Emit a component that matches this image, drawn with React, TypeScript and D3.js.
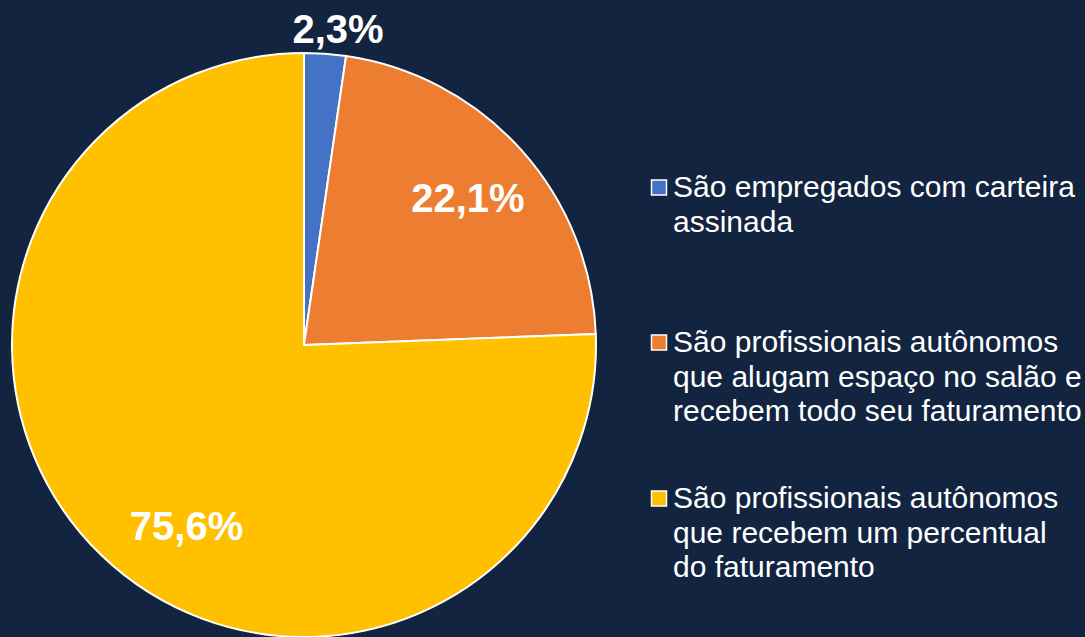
import React from 'react';
import * as d3 from 'd3';

// shares of professionals by type of work relation (%)
const categories = [
  'São empregados com carteira assinada',
  'São profissionais autônomos que alugam espaço no salão e recebem todo seu faturamento',
  'São profissionais autônomos que recebem um percentual do faturamento',
];
const values = [2.3, 22.1, 75.6];
const valueLabels = ['2,3%', '22,1%', '75,6%'];
const legendLines = [
  ['São empregados com carteira', 'assinada'],
  ['São profissionais autônomos', 'que alugam espaço no salão e', 'recebem todo seu faturamento'],
  ['São profissionais autônomos', 'que recebem um percentual', 'do faturamento'],
];
const colors = ['#4472C4', '#ED7D31', '#FFC000'];

const W = 1085;
const H = 637;
const BG = '#12243F';

function App() {
  const cx = 304;
  const cy = 345;
  const R = 292;

  const pie = d3.pie<number>().sort(null).value(d => d);
  const arcs = pie(values);
  const arc = d3.arc<d3.PieArcDatum<number>>().innerRadius(0).outerRadius(R);

  // label radius (fraction of R) and a small extra shift, like excel's best fit
  const labelR = [1.09, 0.755, 0.58];
  const labelShift = [[11, 1], [0, 0], [0, 59]];

  const legendX = 651;
  const legendTop = [197, 352, 508];
  const lineH = 34.5;

  return (
    <svg width={W} height={H} style={{ position: 'fixed', left: 0, top: 0, background: BG }}
      fontFamily='"Liberation Sans", Arial, sans-serif'>
      <rect width={W} height={H} fill={BG} />
      <g transform={`translate(${cx},${cy})`}>
        {arcs.map((a, i) => (
          <path key={categories[i]} d={arc(a) || ''} fill={colors[i]} stroke="#fff" strokeWidth={2} strokeLinejoin="round" />
        ))}
        {arcs.map((a, i) => {
          const la = d3.arc<d3.PieArcDatum<number>>().innerRadius(R * labelR[i]).outerRadius(R * labelR[i]);
          const [x, y] = la.centroid(a);
          return (
            <text key={'l' + i} x={x + labelShift[i][0]} y={y + labelShift[i][1] + 14}
              textAnchor="middle" fontSize={40} fontWeight="bold" fill="#fff">
              {valueLabels[i]}
            </text>
          );
        })}
      </g>
      {legendLines.map((lines, i) => (
        <g key={'lg' + i}>
          <rect x={legendX + 0.5} y={legendTop[i] - 17} width={15} height={15} fill={colors[i]} stroke="#fff" strokeWidth={1.5} />
          {lines.map((t, j) => (
            <text key={j} x={legendX + 22} y={legendTop[i] + j * lineH} fontSize={30} fill="#fff">{t}</text>
          ))}
        </g>
      ))}
    </svg>
  );
}

export default App;
